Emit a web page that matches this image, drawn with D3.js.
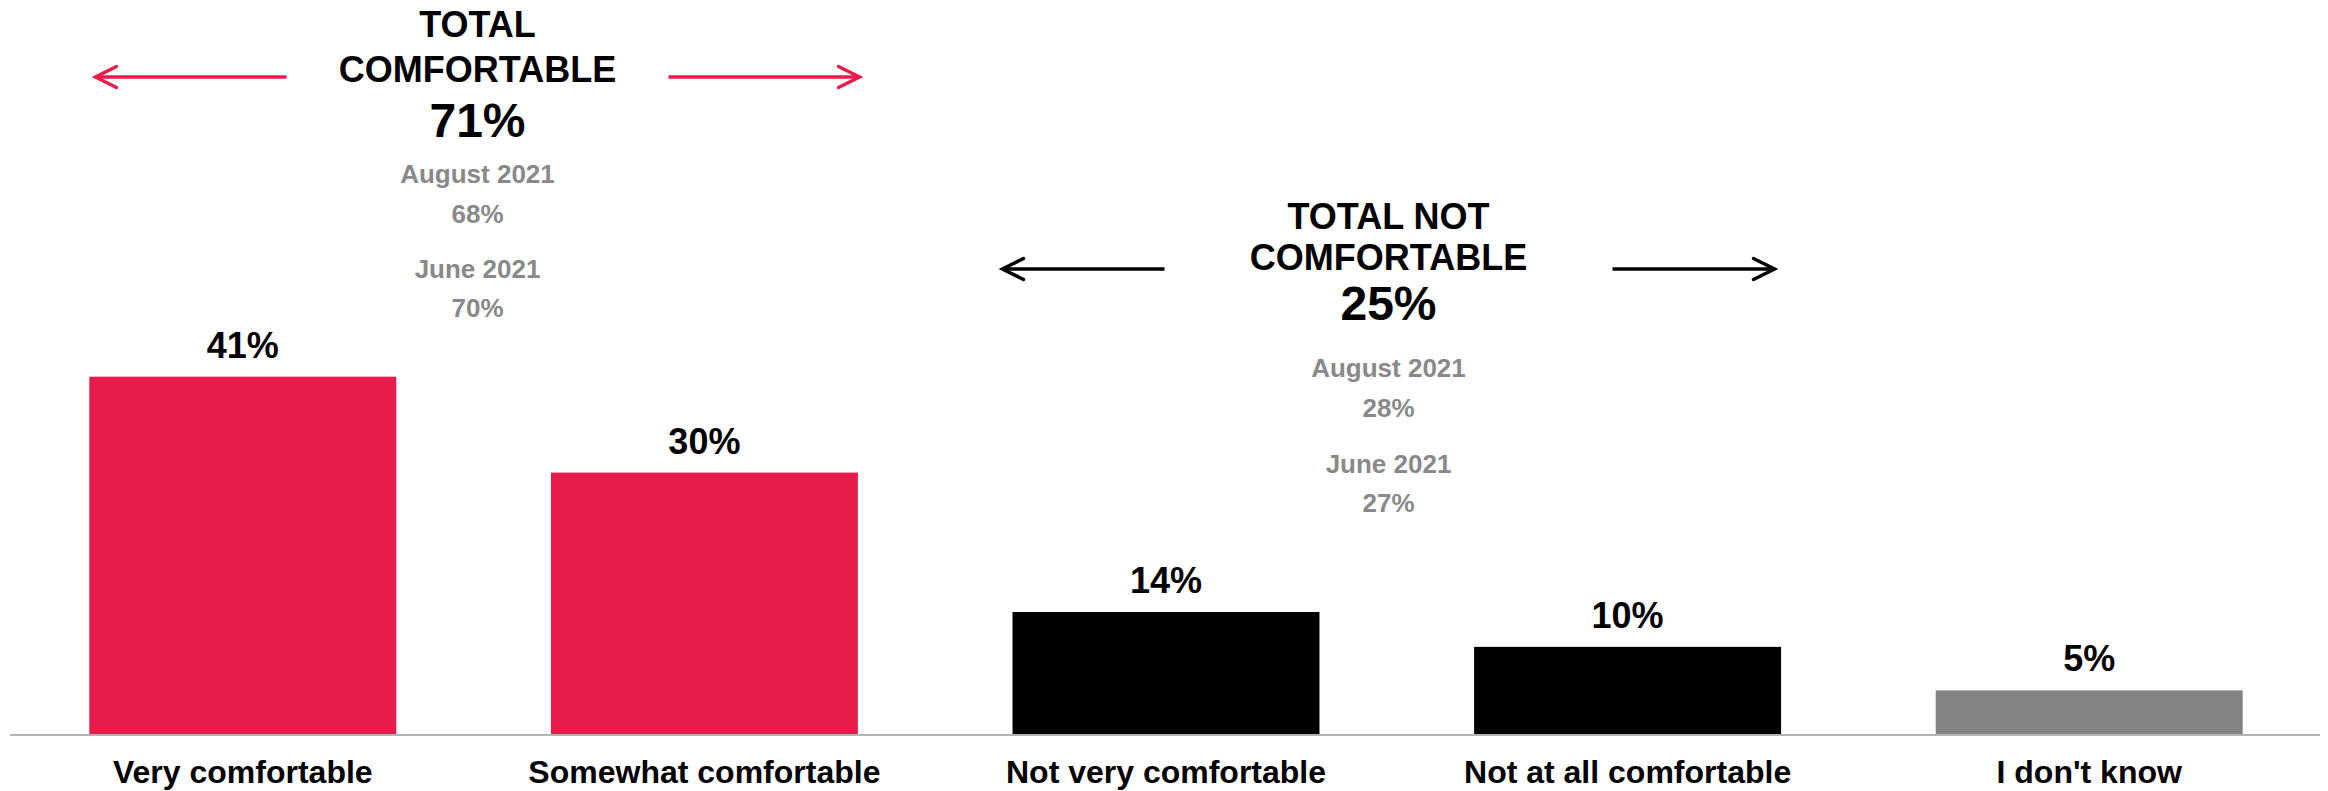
<!DOCTYPE html>
<html>
<head>
<meta charset="utf-8">
<script src="https://cdn.jsdelivr.net/npm/d3@7/dist/d3.min.js"></script>
<style>
  html, body { margin: 0; padding: 0; background: #ffffff; }
  svg { display: block; }
  text { font-family: "Liberation Sans", Arial, Helvetica, sans-serif; font-weight: bold; }
</style>
</head>
<body>
<svg id="chart" width="2328" height="791"></svg>
<script>
// Response shares (%) for each answer option
const categories = ["Very comfortable", "Somewhat comfortable", "Not very comfortable", "Not at all comfortable", "I don't know"];
const values = [41, 30, 14, 10, 5];
const groupOf = ["comfortable", "comfortable", "not", "not", "unsure"];

// Net totals shown above the bars, with earlier survey waves
const summaryKeys = ["comfortable", "not"];
const summaryTitles = [["TOTAL", "COMFORTABLE"], ["TOTAL NOT", "COMFORTABLE"]];
const summaryTotals = [71, 25];
const waveLabels = ["August 2021", "June 2021"];
const summaryAug2021 = [68, 28];
const summaryJun2021 = [70, 27];

const svg = d3.select("#chart");
const W = 2328, baseY = 734;

const x = d3.scaleBand()
  .domain(categories)
  .range([12, 2320])
  .paddingInner(0.335)
  .paddingOuter(0.1675);

const y = d3.scaleLinear()
  .domain([0, 41])
  .range([baseY, baseY - 357.3]);

const color = d3.scaleOrdinal()
  .domain(["comfortable", "not", "unsure"])
  .range(["#e81c4b", "#000000", "#838383"]);

const data = categories.map((c, i) => ({ c, v: values[i], g: groupOf[i] }));

// Bars
svg.append("g").selectAll("rect")
  .data(data)
  .join("rect")
  .attr("x", d => x(d.c))
  .attr("y", d => y(d.v))
  .attr("width", x.bandwidth())
  .attr("height", d => y(0) - y(d.v))
  .attr("fill", d => color(d.g));

// Value labels
svg.append("g").selectAll("text")
  .data(data)
  .join("text")
  .attr("x", d => x(d.c) + x.bandwidth() / 2)
  .attr("y", d => y(d.v) - 19)
  .attr("text-anchor", "middle")
  .attr("font-size", 36)
  .attr("fill", "#000")
  .text(d => d.v + "%");

// Baseline axis with category labels
const axis = svg.append("g")
  .attr("transform", `translate(0,${baseY})`)
  .call(d3.axisBottom(x).tickSize(0).tickPadding(0));
axis.select(".domain").remove();
axis.selectAll(".tick text")
  .attr("dy", null)
  .attr("y", 49)
  .attr("font-size", 32)
  .attr("fill", "#000")
  .style("font-family", "\"Liberation Sans\", Arial, sans-serif")
  .style("font-weight", "bold");

svg.append("line")
  .attr("x1", 10).attr("x2", 2320)
  .attr("y1", baseY + 1).attr("y2", baseY + 1)
  .attr("stroke", "#b3b3b3")
  .attr("stroke-width", 2);

// Summary blocks: layout for each group
const layout = {
  comfortable: { cx: 477.5, lines: [37, 82, 137, 183, 223, 278, 317], arrowY: 77, inner: 191, outer: 382 },
  not:         { cx: 1388.5, lines: [229, 270, 320, 377, 417, 473, 512], arrowY: 269, inner: 224, outer: 386 }
};

function arrow(g, x1, x2, yy, stroke) {
  // shaft from x1 to tip x2
  const dir = Math.sign(x2 - x1);
  g.append("line")
    .attr("x1", x1).attr("x2", x2 - dir * 1.5)
    .attr("y1", yy).attr("y2", yy)
    .attr("stroke", stroke).attr("stroke-width", 3.5);
  g.append("path")
    .attr("d", `M${x2 - dir * 21},${yy - 10.5} L${x2},${yy} L${x2 - dir * 21},${yy + 10.5}`)
    .attr("fill", "none")
    .attr("stroke", stroke)
    .attr("stroke-width", 3.5)
    .attr("stroke-linecap", "round")
    .attr("stroke-linejoin", "miter");
}

summaryKeys.forEach((key, i) => {
  const L = layout[key];
  const g = svg.append("g");
  const stroke = color(key);
  const rows = [
    { t: summaryTitles[i][0], size: 36, fill: "#000" },
    { t: summaryTitles[i][1], size: 36, fill: "#000" },
    { t: summaryTotals[i] + "%", size: 48, fill: "#000" },
    { t: waveLabels[0], size: 26, fill: "#898989" },
    { t: summaryAug2021[i] + "%", size: 26, fill: "#898989" },
    { t: waveLabels[1], size: 26, fill: "#898989" },
    { t: summaryJun2021[i] + "%", size: 26, fill: "#898989" }
  ];
  g.selectAll("text")
    .data(rows)
    .join("text")
    .attr("x", L.cx)
    .attr("y", (d, j) => L.lines[j])
    .attr("text-anchor", "middle")
    .attr("font-size", d => d.size)
    .attr("fill", d => d.fill)
    .text(d => d.t);

  arrow(g, L.cx - L.inner, L.cx - L.outer, L.arrowY, stroke);
  arrow(g, L.cx + L.inner, L.cx + L.outer, L.arrowY, stroke);
});
</script>
</body>
</html>
